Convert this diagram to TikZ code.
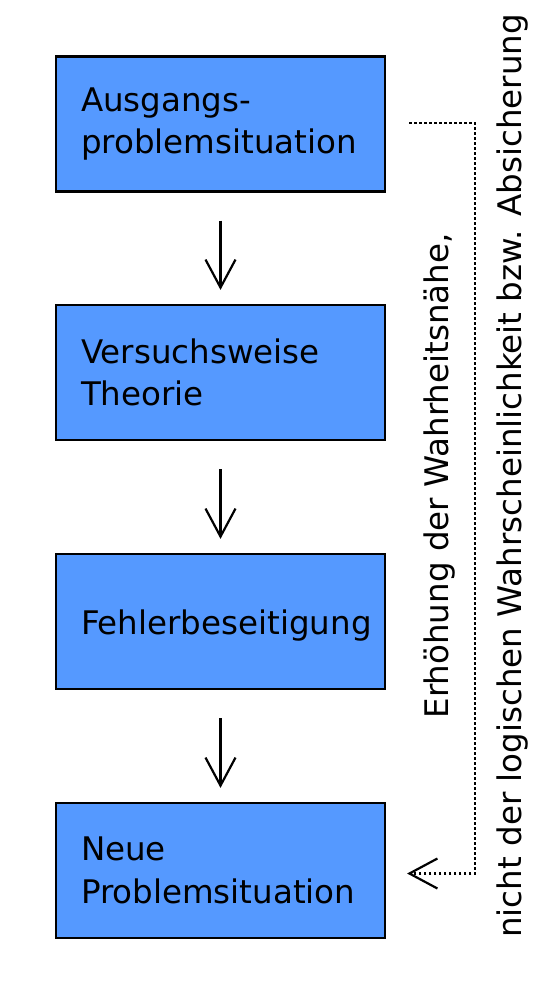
\documentclass[tikz,border=0pt]{standalone}
\usepackage{fontspec}
\setmainfont{DejaVu Sans}
\usetikzlibrary{arrows.meta}
\definecolor{boxblue}{HTML}{5599FF}
\newcommand{\bigtext}{\fontsize{32.5}{42.5}\selectfont}

\begin{document}
\begin{tikzpicture}[x=1pt,y=-1pt,
  stepbox/.style={draw=black, line width=2.2pt, fill=boxblue, minimum width=329pt,
    minimum height=135pt, inner xsep=25pt, text width=279pt, align=left, font=\bigtext},
  flow/.style={-{Straight Barb[length=28pt,width=30pt]}, line width=2.2pt},
  back/.style={-{Straight Barb[length=28pt,width=30pt,line width=2.2pt]}, line width=2.5pt,
    dash pattern=on 2.5pt off 2.5pt}]
\useasboundingbox (0,0) rectangle (553,995);
% Boxes:
\node (start) [stepbox] at (220.5,124) {Ausgangs-\\problemsituation};
\node (theory) [stepbox] at (220.5,372.5) {Versuchsweise\\Theorie};
\node (error) [stepbox, text height=33pt] at (220.5,621.5) {Fehlerbeseitigung};
\node (new) [stepbox] at (220.5,870.5) {Neue\\Problemsituation};
% Arrows:
\draw[flow] ([yshift=-28pt]start.south) -- ([yshift=14pt]theory.north);
\draw[flow] ([yshift=-28pt]theory.south) -- ([yshift=14pt]error.north);
\draw[flow] ([yshift=-28pt]error.south) -- ([yshift=14pt]new.north);
% Feedback:
\coordinate (fbstart) at ([xshift=23pt,yshift=1pt]start.east);
\coordinate (fbend) at ([xshift=21pt,yshift=-3pt]new.east);
\draw[back] (fbstart) -- (475,123) -- (475,873.5) -- (fbend);
\node (note) [rotate=90, align=center, font=\bigtext] at (476,476)
  {Erhöhung der Wahrheitsnähe,\\[30pt] nicht der logischen Wahrscheinlichkeit bzw. Absicherung};
\end{tikzpicture}
\end{document}
